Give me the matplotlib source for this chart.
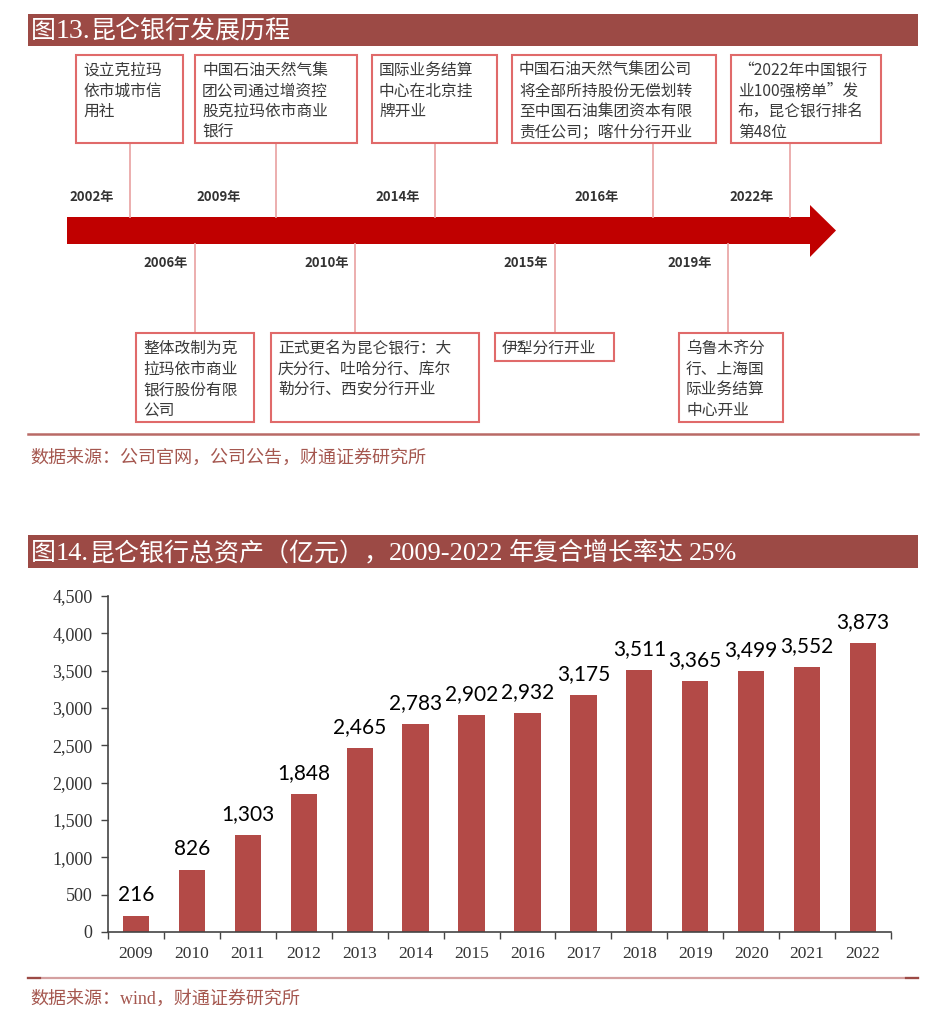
import matplotlib
matplotlib.use('Agg')
import matplotlib.pyplot as plt
from matplotlib.patches import Rectangle, Polygon

plt.rcParams['font.family'] = ['Noto Sans CJK SC', 'DejaVu Sans']

# Timeline data (above the arrow / below the arrow)
top_years = ['2002年', '2009年', '2014年', '2016年', '2022年']
top_texts = [
    '设立克拉玛\n依市城市信\n用社',
    '中国石油天然气集\n团公司通过增资控\n股克拉玛依市商业\n银行',
    '国际业务结算\n中心在北京挂\n牌开业',
    '中国石油天然气集团公司\n将全部所持股份无偿划转\n至中国石油集团资本有限\n责任公司；喀什分行开业',
    '“2022年中国银行\n业100强榜单”发\n布，昆仑银行排名\n第48位',
]
bottom_years = ['2006年', '2010年', '2015年', '2019年']
bottom_texts = [
    '整体改制为克\n拉玛依市商业\n银行股份有限\n公司',
    '正式更名为昆仑银行：大\n庆分行、吐哈分行、库尔\n勒分行、西安分行开业',
    '伊犁分行开业',
    '乌鲁木齐分\n行、上海国\n际业务结算\n中心开业',
]

# Bar chart data
years = ['2009', '2010', '2011', '2012', '2013', '2014', '2015',
         '2016', '2017', '2018', '2019', '2020', '2021', '2022']
assets = [216, 826, 1303, 1848, 2465, 2783, 2902, 2932, 3175, 3511,
          3365, 3499, 3552, 3873]

# titles split into CJK / latin runs (latin drawn in a serif face)
title1_runs = [('图', 'cjk'), ('13.', 'lat'), ('昆仑银行发展历程', 'cjk')]
title2_runs = [('图', 'cjk'), ('14.', 'lat'), ('昆仑银行总资产（亿元），', 'cjk'),
               ('2009-2022', 'lat'), (' ', 'gap'), ('年复合增长率达', 'cjk'),
               (' ', 'gap'), ('25%', 'lat')]
source1 = '数据来源：公司官网，公司公告，财通证券研究所'
source2 = '数据来源：wind，财通证券研究所'

# layout (pixels)
W, H = 945, 1031
HEADER = '#9C4A45'
ARROW = '#C00000'
BOX_EDGE = '#E06A6A'
LINK = '#EBA8A8'
SRC = '#A5574F'
BAR = '#B34A47'

# (left, right, top, bottom, line x)
top_boxes = [(76, 183, 55, 143, 130), (195, 357, 55, 143, 276),
             (372, 497, 55, 143, 435), (512, 716, 55, 143, 653),
             (731, 881, 55, 143, 790)]
top_label_x = [92, 219, 398, 597, 752]
bot_boxes = [(136, 254, 333, 422, 195), (271, 479, 333, 422, 355),
             (495, 614, 333, 361, 555), (679, 783, 333, 422, 728)]
bot_label_x = [166, 327, 526, 690]

fig = plt.figure(figsize=(W / 100, H / 100), dpi=100)
bg = fig.add_axes([0, 0, 1, 1])
bg.set_xlim(0, W)
bg.set_ylim(H, 0)
bg.axis('off')
renderer = fig.canvas.get_renderer()


def header(y0, y1, runs, cjk_size, lat_size, gap=5):
    bg.add_patch(Rectangle((28, y0), 890, y1 - y0, color=HEADER, lw=0))
    x = 31
    base = y1 - 8
    for txt, kind in runs:
        if kind == 'gap':
            x += gap
            continue
        if kind == 'cjk':
            t = bg.text(x, base, txt, color='white', fontsize=cjk_size,
                        va='baseline', ha='left')
        else:
            t = bg.text(x, base, txt, color='white', fontsize=lat_size,
                        va='baseline', ha='left', family='Liberation Serif')
        x += t.get_window_extent(renderer).width


header(14, 46, title1_runs, 18, 20)
header(535, 568, title2_runs, 18, 19)

# arrow
arrow_y0, arrow_y1 = 217, 244
bg.add_patch(Polygon([(67, arrow_y0), (810, arrow_y0), (810, 205),
                      (836, 230.5), (810, 257), (810, arrow_y1),
                      (67, arrow_y1)], closed=True, color=ARROW, lw=0))


def event_box(box, text, linky0, linky1):
    l, r, t, b, lx = box
    bg.plot([lx, lx], [linky0, linky1], color=LINK, lw=1.3, zorder=1)
    bg.add_patch(Rectangle((l, t), r - l, b - t, fill=False,
                           edgecolor=BOX_EDGE, lw=1.5, zorder=2))
    bg.text(l + 7, t + 7, text, ha='left', va='top', fontsize=11.3,
            color='#3a3a3a', linespacing=1.27, zorder=3)


for box, txt, yr, lbx in zip(top_boxes, top_texts, top_years, top_label_x):
    event_box(box, txt, box[3], arrow_y0)
    bg.text(lbx, 197, yr, ha='center', va='center', fontsize=9.5,
            fontweight='bold', color='#333333')

for box, txt, yr, lbx in zip(bot_boxes, bottom_texts, bottom_years, bot_label_x):
    event_box(box, txt, arrow_y1, box[2])
    bg.text(lbx, 263, yr, ha='center', va='center', fontsize=9.5,
            fontweight='bold', color='#333333')

# separators and sources
bg.plot([28, 918], [434, 434], color='#B96A66', lw=1.8)
bg.text(30, 458, source1, fontsize=13, color=SRC, va='center', ha='left')
bg.plot([28, 918], [978, 978], color='#D4A0A0', lw=1.6)
bg.plot([28, 40], [978, 978], color='#9C4A45', lw=1.6)
bg.plot([906, 918], [978, 978], color='#9C4A45', lw=1.6)
bg.text(30, 999, source2, fontsize=13, color=SRC, va='center', ha='left',
        family=['Liberation Serif', 'Noto Sans CJK SC'])

# bar chart
ax = fig.add_axes([108 / W, (H - 932) / H, (891 - 108) / W, (932 - 596) / H])
x = list(range(len(years)))
bars = ax.bar(x, assets, width=0.47, color=BAR, zorder=2)
ax.set_xlim(-0.5, len(years) - 0.5)
ax.set_ylim(0, 4500)
ax.set_yticks(range(0, 4501, 500))
ax.set_yticklabels([f'{v:,}' for v in range(0, 4501, 500)])
ax.set_xticks(x)
ax.set_xticklabels(years)
ax.set_xticks([i - 0.5 for i in range(len(years) + 1)], minor=True)
ax.tick_params(axis='x', which='major', length=0, pad=10)
ax.tick_params(axis='x', which='minor', length=5, width=1, color='#444444')
ax.tick_params(axis='y', length=5, width=1, color='#444444', pad=6)
for lab in ax.get_xticklabels():
    lab.set_family('Liberation Serif')
    lab.set_fontsize(12.5)
    lab.set_color('#333333')
for lab in ax.get_yticklabels():
    lab.set_family('Liberation Serif')
    lab.set_fontsize(13)
    lab.set_color('#333333')
for s in ['top', 'right']:
    ax.spines[s].set_visible(False)
for s in ['left', 'bottom']:
    ax.spines[s].set_color('#444444')
    ax.spines[s].set_linewidth(1.2)

for rect, v in zip(bars, assets):
    ax.annotate(f'{v:,}', (rect.get_x() + rect.get_width() / 2, v),
                xytext=(0, 8), textcoords='offset points', ha='center',
                va='bottom', fontsize=15, family='Lato', color='black')

fig.savefig('out.png', dpi=100)
